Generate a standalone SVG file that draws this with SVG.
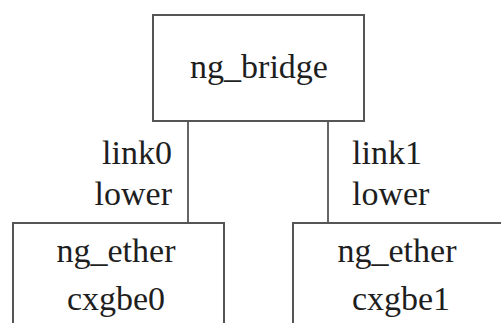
<svg xmlns="http://www.w3.org/2000/svg" width="501" height="323" viewBox="0 0 501 323">
<style>
.box{fill:#fff;stroke:#555;stroke-width:2}
.t{font-family:'Liberation Serif','Times New Roman',serif;font-size:34px;fill:#1e1e1e}
.c{stroke:#333;stroke-width:1.5;fill:none}
</style>
<rect width="501" height="323" fill="#fff"/>
<g id="connectors">
<line class="c" x1="188" y1="121" x2="188" y2="223"/>
<line class="c" x1="328" y1="121" x2="328" y2="223"/>
</g>
<g id="ng_bridge">
<rect class="box" x="153" y="15" width="211" height="106"/>
<text class="t" x="259" y="78" text-anchor="middle">ng_bridge</text>
</g>
<g id="labels">
<text class="t" x="172" y="164" text-anchor="end">link0</text>
<text class="t" x="172" y="205" text-anchor="end">lower</text>
<text class="t" x="352" y="164">link1</text>
<text class="t" x="352" y="205">lower</text>
</g>
<g id="ether0">
<rect class="box" x="13" y="223" width="211" height="110"/>
<text class="t" x="116" y="262" text-anchor="middle">ng_ether</text>
<text class="t" x="116" y="310" text-anchor="middle">cxgbe0</text>
</g>
<g id="ether1">
<rect class="box" x="293" y="223" width="211" height="110"/>
<text class="t" x="397" y="262" text-anchor="middle">ng_ether</text>
<text class="t" x="401" y="310" text-anchor="middle">cxgbe1</text>
</g>
</svg>
